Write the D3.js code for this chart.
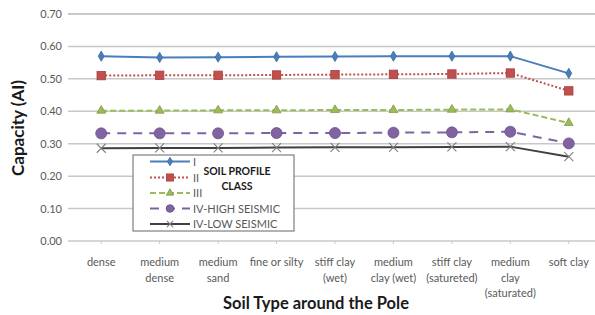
<!DOCTYPE html>
<html>
<head>
<meta charset="utf-8">
<script src="https://cdn.jsdelivr.net/npm/d3@7"></script>
<style>
  body { margin: 0; background: #fff; }
  #chart { width: 595px; height: 315px; }
  text { font-family: Lato, "Open Sans", sans-serif; }
</style>
</head>
<body>
<div id="chart"></div>
<script>
// categories along the x axis (multi-line labels split with |)
const categories = ["dense", "medium|dense", "medium|sand", "fine or silty", "stiff clay|(wet)",
    "medium|clay (wet)", "stiff clay|(satureted)", "medium|clay|(saturated)", "soft clay"];

const seriesI    = [0.570, 0.566, 0.567, 0.568, 0.569, 0.570, 0.570, 0.570, 0.517];
const seriesII   = [0.510, 0.511, 0.511, 0.512, 0.513, 0.514, 0.515, 0.518, 0.463];
const seriesIII  = [0.402, 0.402, 0.403, 0.403, 0.404, 0.404, 0.405, 0.406, 0.364];
const seriesIVH  = [0.332, 0.332, 0.332, 0.333, 0.333, 0.334, 0.335, 0.337, 0.301];
const seriesIVL  = [0.286, 0.287, 0.287, 0.288, 0.289, 0.289, 0.290, 0.291, 0.260];

const seriesNames = ["I", "II", "III", "IV-HIGH SEISMIC", "IV-LOW SEISMIC"];
const yTicks = [0, 0.1, 0.2, 0.3, 0.4, 0.5, 0.6, 0.7];

const width = 595, height = 315;
const margin = {top: 14, left: 72, right: -3, bottom: 74};

const svg = d3.select("#chart").append("svg")
    .attr("width", width).attr("height", height);

const xScale = d3.scaleBand()
    .domain(categories)
    .range([margin.left, width - margin.right]);

const yScale = d3.scaleLinear()
    .domain([0, 0.7])
    .range([height - margin.bottom, margin.top]);

// gridlines
svg.append("g").selectAll("line")
    .data(yTicks)
    .join("line")
    .attr("x1", margin.left - 4).attr("x2", width)
    .attr("y1", d => yScale(d)).attr("y2", d => yScale(d))
    .attr("stroke", "#c8c8c8")
    .attr("stroke-width", d => d === 0.7 ? 2 : 1.5);

// y axis labels
const yAxis = svg.append("g")
    .attr("transform", `translate(${margin.left},0)`)
    .call(d3.axisLeft(yScale).tickValues(yTicks).tickFormat(d3.format(".2f")).tickSize(0).tickPadding(10));
yAxis.select(".domain").remove();
yAxis.selectAll("text").attr("fill", "#595959").style("font-size", "11px").style("font-family", "Lato, sans-serif");

// x axis
const xAxis = svg.append("g")
    .attr("transform", `translate(0,${yScale(0)})`)
    .call(d3.axisBottom(xScale).tickSize(3).tickFormat(""));
xAxis.select(".domain").remove();
xAxis.selectAll("line").attr("stroke", "#c8c8c8");

const xLabels = svg.append("g").selectAll("text")
    .data(categories)
    .join("text")
    .attr("x", d => xScale(d) + xScale.bandwidth() / 2)
    .attr("y", 266)
    .attr("text-anchor", "middle")
    .attr("fill", "#595959")
    .style("font-size", "11px");
xLabels.each(function(d) {
    const parts = d.split("|");
    d3.select(this).selectAll("tspan")
        .data(parts)
        .join("tspan")
        .attr("x", xScale(d) + xScale.bandwidth() / 2)
        .attr("dy", (p, i) => i === 0 ? 0 : 15.5)
        .text(p => p);
});

// series styling
const colors = ["#4a7ebb", "#c0504d", "#9bbb59", "#8064a2", "#404040"];
const dashes = [null, "2,2", "6,3", "9,7", null];
const allSeries = [seriesI, seriesII, seriesIII, seriesIVH, seriesIVL];

const line = d3.line()
    .x((d, i) => xScale(categories[i]) + xScale.bandwidth() / 2)
    .y(d => yScale(d));

function drawMarker(g, k, x, y, scale) {
    const s = scale || 1;
    if (k === 0) {
        g.append("path").attr("d", d3.symbol(d3.symbolDiamond, 30 * s)()).attr("transform", `translate(${x},${y})`)
            .attr("fill", colors[0]).attr("stroke", "#3a6aa5").attr("stroke-width", 0.8);
    } else if (k === 1) {
        g.append("rect").attr("x", x - 4.2 * s).attr("y", y - 4.2 * s).attr("width", 8.4 * s).attr("height", 8.4 * s)
            .attr("fill", "#c0504d").attr("stroke", "#a33f3c").attr("stroke-width", 0.8);
    } else if (k === 2) {
        g.append("path").attr("d", d3.symbol(d3.symbolTriangle, 34 * s)()).attr("transform", `translate(${x},${y})`)
            .attr("fill", "#9bbb59").attr("stroke", "#7f9b45").attr("stroke-width", 0.8);
    } else if (k === 3) {
        g.append("circle").attr("cx", x).attr("cy", y).attr("r", 5.5 * s)
            .attr("fill", "#8064a2").attr("stroke", "#6a5089").attr("stroke-width", 0.8);
    } else {
        const r = 4.5 * s;
        g.append("path").attr("d", `M${x - r},${y - r}L${x + r},${y + r}M${x - r},${y + r}L${x + r},${y - r}`)
            .attr("stroke", "#7f7f7f").attr("stroke-width", 1.1);
    }
}

// draw bottom series first so upper series sit on top
for (let k = allSeries.length - 1; k >= 0; k--) {
    const g = svg.append("g");
    g.append("path")
        .datum(allSeries[k])
        .attr("d", line)
        .attr("fill", "none")
        .attr("stroke", colors[k])
        .attr("stroke-width", 2)
        .attr("stroke-dasharray", dashes[k]);
    allSeries[k].forEach((v, i) => {
        drawMarker(g, k, xScale(categories[i]) + xScale.bandwidth() / 2, yScale(v));
    });
}

// legend
const legend = svg.append("g");
legend.append("rect")
    .attr("x", 133).attr("y", 155).attr("width", 161).attr("height", 76)
    .attr("fill", "#fff").attr("stroke", "#7f7f7f").attr("stroke-width", 1.2);

const legendY = [161.5, 177.5, 193, 208.5, 224];
seriesNames.forEach((name, k) => {
    legend.append("line")
        .attr("x1", 150).attr("x2", 190)
        .attr("y1", legendY[k]).attr("y2", legendY[k])
        .attr("stroke", colors[k]).attr("stroke-width", 2)
        .attr("stroke-dasharray", dashes[k]);
    drawMarker(legend, k, 170, legendY[k], k === 1 ? 0.85 : 0.7);
    legend.append("text")
        .attr("x", 193).attr("y", legendY[k] + 4)
        .attr("fill", "#595959")
        .style("font-size", "11px")
        .text(name);
});
legend.append("text").attr("x", 237).attr("y", 175).attr("text-anchor", "middle")
    .style("font-size", "10.5px").style("font-weight", "bold").attr("fill", "#1a1a1a").text("SOIL PROFILE");
legend.append("text").attr("x", 237).attr("y", 190).attr("text-anchor", "middle")
    .style("font-size", "10.5px").style("font-weight", "bold").attr("fill", "#1a1a1a").text("CLASS");

// axis titles
svg.append("text")
    .attr("transform", "rotate(-90)")
    .attr("x", -128).attr("y", 24)
    .attr("text-anchor", "middle")
    .style("font-size", "17px").style("font-weight", "bold")
    .attr("fill", "#1a1a1a")
    .text("Capacity (AI)");

svg.append("text")
    .attr("x", 316).attr("y", 309)
    .attr("text-anchor", "middle")
    .style("font-size", "16.5px").style("font-weight", "bold")
    .attr("fill", "#1a1a1a")
    .text("Soil Type around the Pole");
</script>
</body>
</html>
